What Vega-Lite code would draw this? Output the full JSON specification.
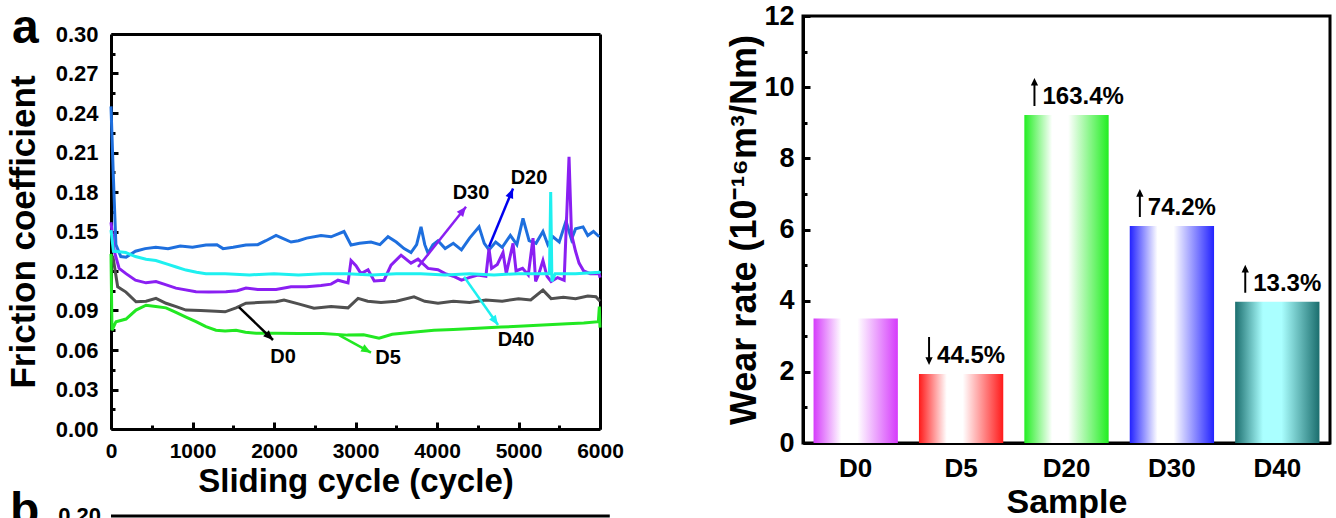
{
  "$schema": "https://vega.github.io/schema/vega-lite/v6.json",
  "padding": {"left": 6, "top": 0, "right": 0, "bottom": 0},
  "background": "white",
  "config": {
    "font": "Liberation Sans",
    "view": {"stroke": "black", "strokeWidth": 3},
    "axis": {"labelFont": "Liberation Sans", "titleFont": "Liberation Sans", "labelFontWeight": "bold", "titleFontWeight": "bold", "labelColor": "black", "titleColor": "black", "domainColor": "black", "tickColor": "black", "domainWidth": 3, "tickWidth": 3, "grid": false, "labelFlush": false, "labelOverlap": false}
  },
  "datasets": {
    "lines": [
      {"s":"D20","c":0,"f":0.245},{"s":"D20","c":30,"f":0.19},{"s":"D20","c":60,"f":0.14},{"s":"D20","c":120,"f":0.131},{"s":"D20","c":185,"f":0.1305},{"s":"D20","c":300,"f":0.135},{"s":"D20","c":420,"f":0.137},{"s":"D20","c":550,"f":0.138},{"s":"D20","c":700,"f":0.137},{"s":"D20","c":850,"f":0.139},{"s":"D20","c":1000,"f":0.138},{"s":"D20","c":1165,"f":0.1397},{"s":"D20","c":1300,"f":0.14},{"s":"D20","c":1375,"f":0.137},{"s":"D20","c":1500,"f":0.138},{"s":"D20","c":1655,"f":0.1397},{"s":"D20","c":1800,"f":0.14},{"s":"D20","c":1900,"f":0.143},{"s":"D20","c":2025,"f":0.147},{"s":"D20","c":2100,"f":0.145},{"s":"D20","c":2209,"f":0.142},{"s":"D20","c":2300,"f":0.143},{"s":"D20","c":2400,"f":0.145},{"s":"D20","c":2577,"f":0.147},{"s":"D20","c":2700,"f":0.146},{"s":"D20","c":2859,"f":0.15},{"s":"D20","c":2945,"f":0.1397},{"s":"D20","c":3050,"f":0.141},{"s":"D20","c":3190,"f":0.142},{"s":"D20","c":3300,"f":0.14},{"s":"D20","c":3399,"f":0.146},{"s":"D20","c":3500,"f":0.142},{"s":"D20","c":3596,"f":0.137},{"s":"D20","c":3681,"f":0.134},{"s":"D20","c":3750,"f":0.14},{"s":"D20","c":3804,"f":0.1535},{"s":"D20","c":3850,"f":0.14},{"s":"D20","c":3890,"f":0.1335},{"s":"D20","c":3950,"f":0.14},{"s":"D20","c":4012,"f":0.143},{"s":"D20","c":4100,"f":0.137},{"s":"D20","c":4200,"f":0.141},{"s":"D20","c":4300,"f":0.136},{"s":"D20","c":4400,"f":0.145},{"s":"D20","c":4516,"f":0.1535},{"s":"D20","c":4580,"f":0.141},{"s":"D20","c":4638,"f":0.136},{"s":"D20","c":4720,"f":0.142},{"s":"D20","c":4800,"f":0.138},{"s":"D20","c":4900,"f":0.147},{"s":"D20","c":4980,"f":0.14},{"s":"D20","c":5055,"f":0.16},{"s":"D20","c":5130,"f":0.143},{"s":"D20","c":5215,"f":0.141},{"s":"D20","c":5300,"f":0.15},{"s":"D20","c":5360,"f":0.14},{"s":"D20","c":5423,"f":0.146},{"s":"D20","c":5500,"f":0.142},{"s":"D20","c":5583,"f":0.158},{"s":"D20","c":5650,"f":0.144},{"s":"D20","c":5700,"f":0.152},{"s":"D20","c":5792,"f":0.1535},{"s":"D20","c":5850,"f":0.147},{"s":"D20","c":5920,"f":0.15},{"s":"D20","c":5990,"f":0.146},
      {"s":"D0","c":0,"f":0.13},{"s":"D0","c":25,"f":0.1305},{"s":"D0","c":82,"f":0.108},{"s":"D0","c":184,"f":0.104},{"s":"D0","c":307,"f":0.0966},{"s":"D0","c":430,"f":0.097},{"s":"D0","c":552,"f":0.0992},{"s":"D0","c":675,"f":0.0955},{"s":"D0","c":800,"f":0.093},{"s":"D0","c":920,"f":0.0903},{"s":"D0","c":1100,"f":0.09},{"s":"D0","c":1288,"f":0.0895},{"s":"D0","c":1400,"f":0.089},{"s":"D0","c":1534,"f":0.092},{"s":"D0","c":1656,"f":0.0955},{"s":"D0","c":1800,"f":0.096},{"s":"D0","c":2025,"f":0.0966},{"s":"D0","c":2123,"f":0.098},{"s":"D0","c":2300,"f":0.095},{"s":"D0","c":2491,"f":0.0917},{"s":"D0","c":2700,"f":0.093},{"s":"D0","c":2908,"f":0.092},{"s":"D0","c":3031,"f":0.0992},{"s":"D0","c":3150,"f":0.097},{"s":"D0","c":3313,"f":0.096},{"s":"D0","c":3500,"f":0.097},{"s":"D0","c":3718,"f":0.1004},{"s":"D0","c":3850,"f":0.097},{"s":"D0","c":4012,"f":0.0955},{"s":"D0","c":4200,"f":0.097},{"s":"D0","c":4400,"f":0.096},{"s":"D0","c":4600,"f":0.098},{"s":"D0","c":4800,"f":0.097},{"s":"D0","c":5000,"f":0.099},{"s":"D0","c":5150,"f":0.098},{"s":"D0","c":5300,"f":0.1055},{"s":"D0","c":5400,"f":0.099},{"s":"D0","c":5550,"f":0.1},{"s":"D0","c":5700,"f":0.099},{"s":"D0","c":5850,"f":0.101},{"s":"D0","c":5950,"f":0.1004},{"s":"D0","c":6000,"f":0.097},
      {"s":"D5","c":0,"f":0.133},{"s":"D5","c":12,"f":0.075},{"s":"D5","c":61,"f":0.0815},{"s":"D5","c":184,"f":0.0835},{"s":"D5","c":307,"f":0.0903},{"s":"D5","c":430,"f":0.094},{"s":"D5","c":550,"f":0.093},{"s":"D5","c":675,"f":0.092},{"s":"D5","c":797,"f":0.0885},{"s":"D5","c":920,"f":0.085},{"s":"D5","c":1043,"f":0.0815},{"s":"D5","c":1165,"f":0.0777},{"s":"D5","c":1288,"f":0.075},{"s":"D5","c":1400,"f":0.0745},{"s":"D5","c":1534,"f":0.075},{"s":"D5","c":1650,"f":0.0735},{"s":"D5","c":1779,"f":0.0728},{"s":"D5","c":2025,"f":0.0728},{"s":"D5","c":2300,"f":0.0726},{"s":"D5","c":2600,"f":0.0726},{"s":"D5","c":2900,"f":0.0713},{"s":"D5","c":3100,"f":0.0715},{"s":"D5","c":3289,"f":0.069},{"s":"D5","c":3450,"f":0.072},{"s":"D5","c":3700,"f":0.0735},{"s":"D5","c":3963,"f":0.075},{"s":"D5","c":4200,"f":0.0755},{"s":"D5","c":4500,"f":0.0765},{"s":"D5","c":4785,"f":0.0774},{"s":"D5","c":5000,"f":0.078},{"s":"D5","c":5300,"f":0.079},{"s":"D5","c":5600,"f":0.08},{"s":"D5","c":5800,"f":0.0805},{"s":"D5","c":5980,"f":0.0815},{"s":"D5","c":5992,"f":0.093},{"s":"D5","c":6000,"f":0.077},
      {"s":"D30","c":0,"f":0.157},{"s":"D30","c":40,"f":0.135},{"s":"D30","c":100,"f":0.122},{"s":"D30","c":184,"f":0.118},{"s":"D30","c":300,"f":0.113},{"s":"D30","c":430,"f":0.111},{"s":"D30","c":552,"f":0.112},{"s":"D30","c":650,"f":0.11},{"s":"D30","c":797,"f":0.107},{"s":"D30","c":1043,"f":0.1042},{"s":"D30","c":1200,"f":0.104},{"s":"D30","c":1411,"f":0.1042},{"s":"D30","c":1550,"f":0.105},{"s":"D30","c":1656,"f":0.107},{"s":"D30","c":1800,"f":0.106},{"s":"D30","c":2025,"f":0.106},{"s":"D30","c":2209,"f":0.108},{"s":"D30","c":2400,"f":0.108},{"s":"D30","c":2577,"f":0.109},{"s":"D30","c":2700,"f":0.11},{"s":"D30","c":2785,"f":0.113},{"s":"D30","c":2908,"f":0.111},{"s":"D30","c":2945,"f":0.128},{"s":"D30","c":3006,"f":0.124},{"s":"D30","c":3068,"f":0.118},{"s":"D30","c":3154,"f":0.121},{"s":"D30","c":3230,"f":0.1125},{"s":"D30","c":3350,"f":0.113},{"s":"D30","c":3436,"f":0.1245},{"s":"D30","c":3559,"f":0.132},{"s":"D30","c":3681,"f":0.126},{"s":"D30","c":3767,"f":0.129},{"s":"D30","c":3890,"f":0.122},{"s":"D30","c":4012,"f":0.121},{"s":"D30","c":4100,"f":0.118},{"s":"D30","c":4200,"f":0.116},{"s":"D30","c":4300,"f":0.113},{"s":"D30","c":4393,"f":0.115},{"s":"D30","c":4500,"f":0.117},{"s":"D30","c":4600,"f":0.116},{"s":"D30","c":4638,"f":0.137},{"s":"D30","c":4670,"f":0.122},{"s":"D30","c":4740,"f":0.125},{"s":"D30","c":4810,"f":0.134},{"s":"D30","c":4850,"f":0.118},{"s":"D30","c":4933,"f":0.141},{"s":"D30","c":4970,"f":0.12},{"s":"D30","c":5050,"f":0.122},{"s":"D30","c":5120,"f":0.117},{"s":"D30","c":5178,"f":0.145},{"s":"D30","c":5210,"f":0.112},{"s":"D30","c":5250,"f":0.118},{"s":"D30","c":5300,"f":0.128},{"s":"D30","c":5350,"f":0.116},{"s":"D30","c":5400,"f":0.112},{"s":"D30","c":5480,"f":0.115},{"s":"D30","c":5560,"f":0.113},{"s":"D30","c":5620,"f":0.2067},{"s":"D30","c":5650,"f":0.148},{"s":"D30","c":5700,"f":0.135},{"s":"D30","c":5743,"f":0.126},{"s":"D30","c":5800,"f":0.12},{"s":"D30","c":5880,"f":0.118},{"s":"D30","c":5990,"f":0.118},{"s":"D30","c":6000,"f":0.115},
      {"s":"D40","c":0,"f":0.151},{"s":"D40","c":30,"f":0.135},{"s":"D40","c":100,"f":0.1346},{"s":"D40","c":180,"f":0.134},{"s":"D40","c":300,"f":0.131},{"s":"D40","c":430,"f":0.129},{"s":"D40","c":550,"f":0.128},{"s":"D40","c":700,"f":0.125},{"s":"D40","c":800,"f":0.123},{"s":"D40","c":920,"f":0.1207},{"s":"D40","c":1050,"f":0.119},{"s":"D40","c":1165,"f":0.118},{"s":"D40","c":1400,"f":0.118},{"s":"D40","c":1700,"f":0.117},{"s":"D40","c":2000,"f":0.118},{"s":"D40","c":2300,"f":0.117},{"s":"D40","c":2600,"f":0.118},{"s":"D40","c":2900,"f":0.118},{"s":"D40","c":3200,"f":0.117},{"s":"D40","c":3500,"f":0.118},{"s":"D40","c":3800,"f":0.118},{"s":"D40","c":4100,"f":0.117},{"s":"D40","c":4400,"f":0.118},{"s":"D40","c":4700,"f":0.117},{"s":"D40","c":5000,"f":0.118},{"s":"D40","c":5300,"f":0.118},{"s":"D40","c":5380,"f":0.118},{"s":"D40","c":5395,"f":0.18},{"s":"D40","c":5410,"f":0.112},{"s":"D40","c":5450,"f":0.118},{"s":"D40","c":5700,"f":0.118},{"s":"D40","c":5990,"f":0.119},{"s":"D40","c":6000,"f":0.12}
    ],
    "arrows": [
      {"s":"D0","c1":1570,"f1":0.0926,"c2":1988,"f2":0.0676,"lc":2110,"lf":0.0547},
      {"s":"D5","c1":2798,"f1":0.0713,"c2":3190,"f2":0.058,"lc":3399,"lf":0.054},
      {"s":"D40","c1":4332,"f1":0.1156,"c2":4749,"f2":0.079,"lc":4969,"lf":0.0676},
      {"s":"D30","c1":3767,"f1":0.123,"c2":4356,"f2":0.1688,"lc":4417,"lf":0.1795},
      {"s":"D20","c1":4638,"f1":0.1384,"c2":4933,"f2":0.1827,"lc":5129,"lf":0.1905}
    ],
    "bars": [
      {"s":"D0","w":3.5,"dir":"","pct":""},
      {"s":"D5","w":1.94,"dir":"down","pct":"44.5%"},
      {"s":"D20","w":9.22,"dir":"up","pct":"163.4%"},
      {"s":"D30","w":6.1,"dir":"up","pct":"74.2%"},
      {"s":"D40","w":3.97,"dir":"up","pct":"13.3%"}
    ]
  },
  "spacing": 101,
  "hconcat": [
    {
      "width": 489,
      "height": 413,
      "view": {"stroke": null},
      "resolve": {"axis": {"x": "independent", "y": "independent"}},
      "layer": [
        {
          "data": {"name": "lines"},
          "mark": {"type": "line", "strokeWidth": 3},
          "encoding": {
            "x": {"field": "c", "type": "quantitative", "scale": {"domain": [0, 6000], "nice": false, "zero": false},
              "axis": {"orient": "bottom", "values": [0, 1000, 2000, 3000, 4000, 5000, 6000], "format": "d", "tickSize": -7, "labelPadding": 18, "labelFontSize": 21, "title": "Sliding cycle (cycle)", "titleFontSize": 33, "titlePadding": 4}},
            "y": {"field": "f", "type": "quantitative", "scale": {"domain": [0, 0.3], "range": [413, 18], "nice": false, "zero": false},
              "axis": {"orient": "left", "values": [0, 0.03, 0.06, 0.09, 0.12, 0.15, 0.18, 0.21, 0.24, 0.27, 0.3], "format": ".2f", "tickSize": -7, "labelPadding": 20, "labelFontSize": 22, "title": "Friction coefficient", "titleFontSize": 35, "titlePadding": 14}},
            "color": {"field": "s", "type": "nominal", "scale": {"domain": ["D20", "D0", "D5", "D30", "D40"], "range": ["#1e6fde", "#505050", "#22e822", "#8a1ff2", "#1ef0f0"]}, "legend": null}
          }
        },
        {
          "data": {"name": "arrows"},
          "mark": {"type": "rule", "strokeWidth": 2.5},
          "encoding": {
            "x": {"field": "c1", "type": "quantitative", "scale": {"domain": [0, 6000], "nice": false, "zero": false},
              "axis": {"orient": "bottom", "values": [500, 1500, 2500, 3500, 4500, 5500], "labels": false, "domain": false, "tickSize": -4, "title": null}},
            "x2": {"field": "c2"},
            "y": {"field": "f1", "type": "quantitative", "scale": {"domain": [0, 0.3], "range": [413, 18], "nice": false, "zero": false},
              "axis": {"orient": "left", "values": [0.015, 0.045, 0.075, 0.105, 0.135, 0.165, 0.195, 0.225, 0.255, 0.285], "labels": false, "domain": false, "tickSize": -4, "title": null}},
            "y2": {"field": "f2"},
            "stroke": {"field": "s", "type": "nominal", "scale": {"domain": ["D20", "D0", "D5", "D30", "D40"], "range": ["#0000ee", "#000000", "#22e822", "#8a1ff2", "#1ef0f0"]}, "legend": null}
          }
        },
        {
          "data": {"name": "arrows"},
          "transform": [{"calculate": "atan2((datum.c2 - datum.c1) * 489 / 6000, (datum.f2 - datum.f1) * 395 / 0.3) * 180 / PI", "as": "ang"}],
          "mark": {"type": "point", "shape": "M0,0L0.42,1L-0.42,1Z", "filled": true, "size": 380, "opacity": 1, "strokeWidth": 0},
          "encoding": {
            "x": {"field": "c2", "type": "quantitative", "scale": {"domain": [0, 6000], "nice": false, "zero": false},
              "axis": {"orient": "top", "offset": -18, "ticks": false, "labels": false, "title": null}},
            "y": {"field": "f2", "type": "quantitative", "scale": {"domain": [0, 0.3], "range": [413, 18], "nice": false, "zero": false},
              "axis": {"orient": "right", "ticks": false, "labels": false, "title": null}},
            "angle": {"field": "ang", "type": "quantitative", "scale": null},
            "fill": {"field": "s", "type": "nominal", "scale": {"domain": ["D20", "D0", "D5", "D30", "D40"], "range": ["#0000ee", "#000000", "#22e822", "#8a1ff2", "#1ef0f0"]}, "legend": null}
          }
        },
        {
          "data": {"name": "arrows"},
          "mark": {"type": "text", "fontSize": 20, "fontWeight": "bold", "font": "Liberation Sans", "color": "black"},
          "encoding": {
            "x": {"field": "lc", "type": "quantitative", "scale": {"domain": [0, 6000], "nice": false, "zero": false}, "axis": null},
            "y": {"field": "lf", "type": "quantitative", "scale": {"domain": [0, 0.3], "range": [413, 18], "nice": false, "zero": false}, "axis": null},
            "text": {"field": "s"}
          }
        },
        {
          "data": {"values": [{}]},
          "mark": {"type": "text", "text": "a", "align": "left", "baseline": "alphabetic", "fontSize": 48, "fontWeight": "bold", "font": "Liberation Sans", "color": "black"},
          "encoding": {
            "x": {"datum": -1215, "type": "quantitative", "axis": null},
            "y": {"datum": 0.2932, "type": "quantitative", "axis": null}
          }
        },
        {
          "data": {"values": [{}]},
          "mark": {"type": "text", "text": "b", "align": "left", "baseline": "alphabetic", "fontSize": 48, "fontWeight": "bold", "font": "Liberation Sans", "color": "black"},
          "encoding": {
            "x": {"datum": -1240, "type": "quantitative", "axis": null},
            "y": {"datum": -0.0737, "type": "quantitative", "axis": null}
          }
        },
        {
          "data": {"values": [{}]},
          "mark": {"type": "text", "text": "0.20", "align": "right", "baseline": "middle", "fontSize": 22, "fontWeight": "bold", "font": "Liberation Sans", "color": "black"},
          "encoding": {
            "x": {"datum": -123, "type": "quantitative", "axis": null},
            "y": {"datum": -0.066, "type": "quantitative", "axis": null}
          }
        },
        {
          "data": {"values": [{}]},
          "mark": {"type": "rule", "strokeWidth": 3, "color": "black"},
          "encoding": {
            "x": {"datum": 0, "type": "quantitative", "axis": null},
            "x2": {"datum": 6120},
            "y": {"datum": -0.066, "type": "quantitative", "axis": null}
          }
        }
      ]
    },
    {
      "width": 527,
      "height": 427,
      "data": {"name": "bars"},
      "resolve": {"axis": {"x": "independent", "y": "independent"}},
      "layer": [
        {
          "encoding": {
            "x": {"field": "s", "type": "nominal", "sort": ["D0", "D5", "D20", "D30", "D40"], "scale": {"paddingInner": 0.2, "paddingOuter": 0.1},
              "axis": {"orient": "bottom", "labelAngle": 0, "tickSize": -7, "labelPadding": 19, "labelFontSize": 26, "title": "Sample", "titleFontSize": 34, "titlePadding": 4}},
            "y": {"field": "w", "type": "quantitative", "scale": {"domain": [0, 12], "nice": false},
              "axis": {"orient": "left", "values": [0, 2, 4, 6, 8, 10, 12], "format": "d", "tickSize": -7, "labelPadding": 16, "labelFontSize": 27, "title": "Wear rate (10⁻¹⁶m³/Nm)", "titleFontSize": 36, "titlePadding": 0}}
          },
          "layer": [
            {"transform": [{"filter": "datum.s === 'D0'"}], "mark": {"type": "bar", "color": {"gradient": "linear", "x1": 0, "y1": 0, "x2": 1, "y2": 0, "stops": [{"offset": 0, "color": "#d53bfb"}, {"offset": 0.33, "color": "#ffffff"}, {"offset": 0.52, "color": "#ffffff"}, {"offset": 1, "color": "#d53bfb"}]}}},
            {"transform": [{"filter": "datum.s === 'D5'"}], "mark": {"type": "bar", "color": {"gradient": "linear", "x1": 0, "y1": 0, "x2": 1, "y2": 0, "stops": [{"offset": 0, "color": "#ff1a1a"}, {"offset": 0.33, "color": "#ffffff"}, {"offset": 0.52, "color": "#ffffff"}, {"offset": 1, "color": "#ff1a1a"}]}}},
            {"transform": [{"filter": "datum.s === 'D20'"}], "mark": {"type": "bar", "color": {"gradient": "linear", "x1": 0, "y1": 0, "x2": 1, "y2": 0, "stops": [{"offset": 0, "color": "#22ee22"}, {"offset": 0.33, "color": "#ffffff"}, {"offset": 0.52, "color": "#ffffff"}, {"offset": 1, "color": "#22ee22"}]}}},
            {"transform": [{"filter": "datum.s === 'D30'"}], "mark": {"type": "bar", "color": {"gradient": "linear", "x1": 0, "y1": 0, "x2": 1, "y2": 0, "stops": [{"offset": 0, "color": "#2222ff"}, {"offset": 0.33, "color": "#ffffff"}, {"offset": 0.52, "color": "#ffffff"}, {"offset": 1, "color": "#2222ff"}]}}},
            {"transform": [{"filter": "datum.s === 'D40'"}], "mark": {"type": "bar", "color": {"gradient": "linear", "x1": 0, "y1": 0, "x2": 1, "y2": 0, "stops": [{"offset": 0, "color": "#1b6e6e"}, {"offset": 0.33, "color": "#aaffff"}, {"offset": 0.55, "color": "#aaffff"}, {"offset": 1, "color": "#1b6e6e"}]}}}
          ]
        },
        {
          "transform": [{"filter": "datum.dir !== ''"}, {"calculate": "datum.dir === 'down' ? 180 : 0", "as": "rot"}],
          "mark": {"type": "point", "shape": "M-0.07,1L-0.07,-0.45L-0.26,-0.45L0,-1L0.26,-0.45L0.07,-0.45L0.07,1Z", "filled": true, "size": 784, "opacity": 1, "strokeWidth": 0, "color": "black", "yOffset": -23},
          "encoding": {
            "x": {"field": "s", "type": "nominal", "sort": ["D0", "D5", "D20", "D30", "D40"], "bandPosition": 0.12, "axis": null},
            "y": {"field": "w", "type": "quantitative", "scale": {"domain": [0, 12], "nice": false},
              "axis": {"orient": "left", "values": [1, 3, 5, 7, 9, 11], "labels": false, "domain": false, "tickSize": -4, "title": null}},
            "angle": {"field": "rot", "type": "quantitative", "scale": null}
          }
        },
        {
          "transform": [{"filter": "datum.pct !== ''"}],
          "mark": {"type": "text", "align": "left", "baseline": "alphabetic", "dx": 8, "dy": -11, "fontSize": 24, "fontWeight": "bold", "font": "Liberation Sans", "color": "black"},
          "encoding": {
            "x": {"field": "s", "type": "nominal", "sort": ["D0", "D5", "D20", "D30", "D40"], "bandPosition": 0.12, "axis": null},
            "y": {"field": "w", "type": "quantitative", "scale": {"domain": [0, 12], "nice": false}, "axis": null},
            "text": {"field": "pct"}
          }
        }
      ]
    }
  ]
}
